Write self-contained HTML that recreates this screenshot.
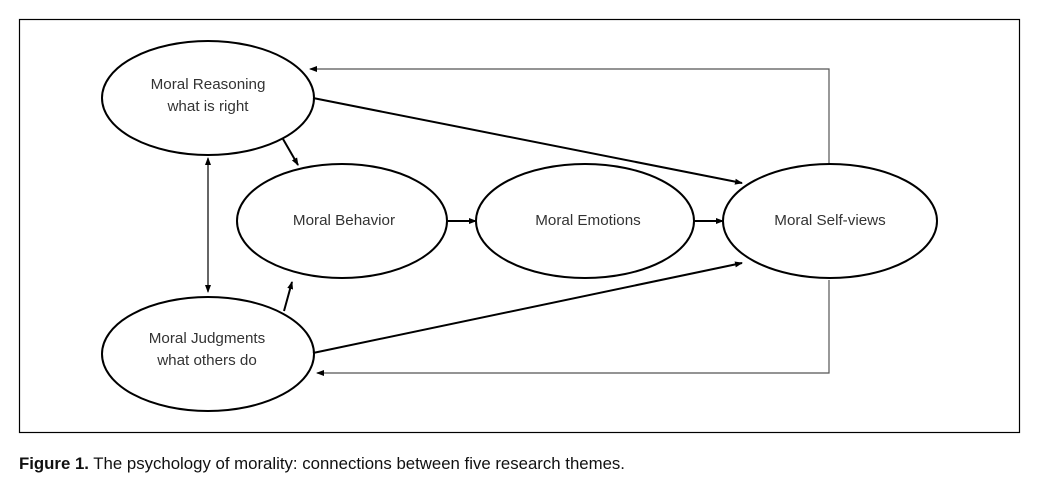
<!DOCTYPE html>
<html><head><style>
body{margin:0;background:#fff;}
svg{display:block}
text{font-family:"Liberation Sans",sans-serif;fill:#333;font-size:15.2px}
</style></head><body>
<svg width="1055" height="489" viewBox="0 0 1055 489">
<defs>
<marker id="a" markerWidth="8" markerHeight="8" refX="7" refY="4" orient="auto" markerUnits="userSpaceOnUse"><path d="M0,1 L8,4 L0,7z" fill="#000"/></marker>
<marker id="s" markerWidth="8" markerHeight="8" refX="7" refY="4" orient="auto-start-reverse" markerUnits="userSpaceOnUse"><path d="M0,1 L8,4 L0,7z" fill="#000"/></marker>
</defs>
<rect x="19.5" y="19.5" width="1000" height="413" fill="none" stroke="#000" stroke-width="1.2"/>
<g fill="none" stroke="#555" stroke-width="1.2">
<polyline points="829,165 829,69 310,69" marker-end="url(#a)"/>
<polyline points="829,280 829,373 317,373" marker-end="url(#a)"/>
<line x1="208" y1="158" x2="208" y2="292" stroke="#000" marker-end="url(#s)" marker-start="url(#s)"/>
</g>
<g fill="none" stroke="#000" stroke-width="2">
<line x1="313" y1="98" x2="742" y2="183" marker-end="url(#a)"/>
<line x1="313" y1="353" x2="742" y2="263" marker-end="url(#a)"/>
<line x1="283" y1="139" x2="298" y2="165" marker-end="url(#a)"/>
<line x1="284" y1="311" x2="292" y2="282" marker-end="url(#a)"/>
<line x1="448" y1="221" x2="476" y2="221" marker-end="url(#a)"/>
<line x1="694" y1="221" x2="723" y2="221" marker-end="url(#a)"/>
<ellipse cx="208" cy="98" rx="106" ry="57"/>
<ellipse cx="342" cy="221" rx="105" ry="57"/>
<ellipse cx="585" cy="221" rx="109" ry="57"/>
<ellipse cx="830" cy="221" rx="107" ry="57"/>
<ellipse cx="208" cy="354" rx="106" ry="57"/>
</g>
<g text-anchor="middle">
<text x="208" y="89">Moral Reasoning</text>
<text x="208" y="111">what is right</text>
<text x="344" y="225">Moral Behavior</text>
<text x="588" y="225">Moral Emotions</text>
<text x="830" y="225">Moral Self-views</text>
<text x="207" y="343">Moral Judgments</text>
<text x="207" y="365">what others do</text>
</g>
<text x="19" y="469" style="font-size:16.8px;fill:#111"><tspan font-weight="bold">Figure 1.</tspan>  The psychology of morality: connections between five research themes.</text>
</svg>
</body></html>
